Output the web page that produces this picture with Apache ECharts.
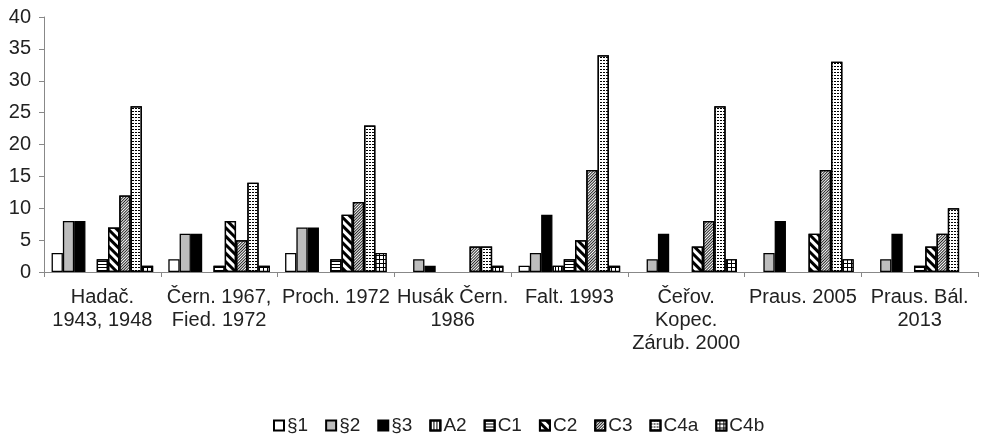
<!DOCTYPE html>
<html>
<head>
<meta charset="utf-8">
<script src="https://cdn.jsdelivr.net/npm/echarts@6/dist/echarts.min.js"></script>
<style>
  html, body { margin: 0; padding: 0; background: #fff; }
  #chart { width: 984px; height: 440px; }
</style>
</head>
<body>
<div id="chart"></div>
<script>
// categories on the x axis
var categories = ['Hadač.\n1943, 1948', 'Čern. 1967,\nFied. 1972', 'Proch. 1972', 'Husák Čern.\n1986',
  'Falt. 1993', 'Čeřov.\nKopec.\nZárub. 2000', 'Praus. 2005', 'Praus. Bál.\n2013'];
var seriesNames = ['§1', '§2', '§3', 'A2', 'C1', 'C2', 'C3', 'C4a', 'C4b'];

// values per series, one per category
var s1  = [3, 2, 3, 0, 1, 0, 0, 0];
var s2  = [8, 6, 7, 2, 3, 2, 3, 2];
var s3  = [8, 6, 7, 1, 9, 6, 8, 6];
var a2  = [0, 0, 0, 0, 1, 0, 0, 0];
var c1  = [2, 1, 2, 0, 2, 0, 0, 1];
var c2  = [7, 8, 9, 0, 5, 4, 6, 4];
var c3  = [12, 5, 11, 4, 16, 8, 16, 6];
var c4a = [26, 14, 23, 4, 34, 26, 33, 10];
var c4b = [1, 1, 3, 1, 1, 2, 2, 0];
var values = [s1, s2, s3, a2, c1, c2, c3, c4a, c4b];

// y axis ticks
var yMin = 0, yMax = 40, yStep = 5;

var fills = ['#fff', '#bdbdbd', '#000', '#fff', '#fff', '#fff', '#fff', '#fff', '#000'];
var decals = [
  null,
  null,
  null,
  { symbol: 'rect', symbolSize: 1, dashArrayX: [[1, 2]], dashArrayY: [4, 0], color: '#000' },
  { symbol: 'rect', symbolSize: 1, dashArrayX: [[4, 0]], dashArrayY: [1, 2], color: '#000' },
  { symbol: 'rect', symbolSize: 1, dashArrayX: [[4, 0]], dashArrayY: [3, 3], rotation: Math.PI / 4, color: '#000' },
  { symbol: 'rect', symbolSize: 1, dashArrayX: [[4, 0]], dashArrayY: [1, 1], rotation: -Math.PI / 4, color: '#222' },
  { symbol: 'rect', symbolSize: 1, dashArrayX: [[2, 1]], dashArrayY: [1, 2], color: '#000' },
  { symbol: 'rect', symbolSize: 1, dashArrayX: [[3, 1]], dashArrayY: [3, 1], color: '#fff' }
];

var font = 'Liberation Sans, Arial, sans-serif';
var series = [];
for (var i = 0; i < seriesNames.length; i++) {
  var st = { color: fills[i], borderColor: '#000', borderWidth: 1.3 };
  if (decals[i]) st.decal = decals[i];
  series.push({
    name: seriesNames[i],
    type: 'bar',
    // empty bars are not drawn at all in the original
    data: values[i].map(function (v) { return v === 0 ? '-' : v; }),
    barGap: '0%',
    barCategoryGap: '13%',
    itemStyle: st,
    emphasis: { disabled: true }
  });
}

var chart = echarts.init(document.getElementById('chart'));
chart.setOption({
  animation: false,
  textStyle: { fontFamily: font },
  grid: { left: 44, right: 6, top: 17, bottom: 168, containLabel: false },
  legend: {
    data: seriesNames,
    left: 268,
    top: 411,
    itemWidth: 10,
    itemHeight: 10,
    itemGap: 17,
    icon: 'rect',
    textStyle: { fontSize: 19, color: '#222', fontFamily: font, padding: [0, 0, 0, -2] }
  },
  xAxis: {
    type: 'category',
    data: categories,
    axisLine: { lineStyle: { color: '#888', width: 1 } },
    axisTick: { show: true, length: 5, lineStyle: { color: '#888' } },
    axisLabel: { interval: 0, margin: 14, fontSize: 20, lineHeight: 23, color: '#222' }
  },
  yAxis: {
    type: 'value',
    min: yMin,
    max: yMax,
    interval: yStep,
    axisLine: { show: true, lineStyle: { color: '#888', width: 1 } },
    axisTick: { show: true, length: 5, lineStyle: { color: '#888' } },
    splitLine: { show: false },
    axisLabel: { fontSize: 20, color: '#222', margin: 13 }
  },
  series: series
});
</script>
</body>
</html>
